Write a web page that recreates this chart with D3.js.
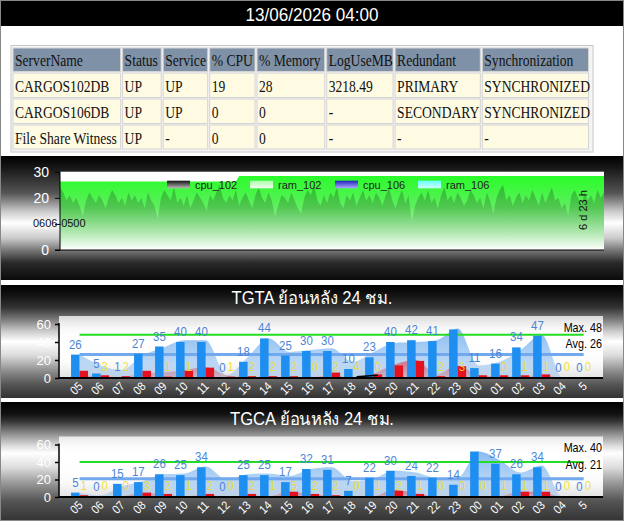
<!DOCTYPE html>
<html><head><meta charset="utf-8">
<script src="https://cdn.jsdelivr.net/npm/d3@7"></script>
<style>
html,body{margin:0;padding:0;background:#fff;}
svg{display:block;}
</style></head><body>
<svg id="c" width="624" height="521"></svg>
<script>
// ---------------- DATA ----------------
const headerTitle = "13/06/2026 04:00";
const tableColumns = ["ServerName","Status","Service","% CPU","% Memory","LogUseMB","Redundant","Synchronization"];
const tableRows = [
  ["CARGOS102DB","UP","UP","19","28","3218.49","PRIMARY","SYNCHRONIZED"],
  ["CARGOS106DB","UP","UP","0","0","-","SECONDARY","SYNCHRONIZED"],
  ["File Share Witness","UP","-","0","0","-","-","-"]
];

// 7-day trend chart (hourly points)
const trendTicks = [0,10,20,30];
const trendLegend = ["cpu_102","ram_102","cpu_106","ram_106"];
const trendStartLabel = "0606-0500";
const trendSpanLabel = "6 d 23 h";
const ram102Index = [0,54,55,167];
const ram102Values = [26.2,26.2,28.4,28.4];
const cpu102 = [
  24,22,19,21,18,20,17,13,19,22,20,18,21,19,16,20,23,21,18,20,17,22,19,21,
  18,20,16,22,19,17,12,20,23,21,19,24,18,20,17,21,16,19,22,20,18,15,21,19,
  22,25,20,18,21,19,23,17,20,22,19,16,21,24,20,18,22,19,13,17,21,20,18,22,
  19,16,14,20,23,21,25,19,17,21,18,22,20,24,18,16,21,19,22,17,20,23,19,21,
  18,22,20,17,21,24,19,16,20,23,18,21,11,17,20,22,19,23,18,20,16,21,24,19,
  21,18,22,20,17,19,23,21,18,20,16,22,19,14,20,23,25,19,21,17,20,22,18,21,
  19,23,20,17,22,18,21,24,19,20,16,18,13,21,23,20,17,22,19,21,18,23,20,22
];

// hourly charts
const hours = ["05","06","07","08","09","10","11","12","13","14","15","16","17","18","19","20","21","22","23","00","01","02","03","04","5"];
const barTicks = [0,20,40,60];

const tgtaTitle = "TGTA ย้อนหลัง 24 ชม.";
const tgtaBlue = [26,5,1,27,35,40,40,0,18,44,25,30,30,10,23,40,42,41,54,11,16,34,47,0,0];
const tgtaBlueLabels = ["26","5","1","27","35","40","40","0","18","44","25","30","30","10","23","40","42","41","","11","16","34","47","0","0"];
const tgtaRed = [8,3,2,8,1.5,8,11.5,1.5,2,2,2,0.5,6,0,4,14,19,2,13,3,3,3,4,0,0];
const tgtaRedLabels = ["","3","2","","1","1","","1","2","2","2","0","2","4","0","","","2","3","","0","1","1","0","0"];
const tgtaBlueArea = [26,14,9,25,34,42,42,3,23,44,29,31,33,18,29,39,40,42,55,14,18,31,48,0,0];
const tgtaRedArea = [3,2,1,5,6,9,12,3,1,1,1,1,3,1,5,15,20,4,14,3,2,2,3,0,0];
const tgtaTrend = [null,null,null,null,null,null,null,null,null,null,null,null,null,1.5,3,null,null,null,null,null,null,null,null,null,null];
const tgtaMax = 48, tgtaAvg = 26;

const tgcaTitle = "TGCA ย้อนหลัง 24 ชม.";
const tgcaBlue = [5,0,15,17,26,25,34,0,25,25,17,32,31,7,22,30,24,22,14,52,38,26,34,0,0];
const tgcaBlueLabels = ["5","0","15","17","26","25","34","0","25","25","17","32","31","7","22","30","24","22","14","","37","26","34","0","0"];
const tgcaRed = [2,0,0.5,5,3.5,1,3.5,0,3.5,1,6,3.5,2,0,0.5,7,3.5,0.5,0,0,1,6,6,0,0];
const tgcaRedLabels = ["1","0","0","3","2","1","2","0","2","1","5","2","2","0","1","2","1","0","0","0","1","1","1","0","0"];
const tgcaBlueArea = [5,2,12,18,26,27,35,20,26,27,24,32,34,18,21,30,28,22,22,52,42,28,36,0,0];
const tgcaRedArea = [1,0,1,5,3,1,3,0,2,1,6,3,2,0,1,8,4,1,0,0,1,6,6,0,0];
const tgcaTrend = hours.map(()=>null);
const tgcaMax = 40, tgcaAvg = 21;

// ---------------- DRAW ----------------
const W=624,H=521;
const svg=d3.select("#c");
const defs=svg.append("defs");
const SANS="'Liberation Sans', Arial, sans-serif";
const SERIF="'Liberation Serif', 'Times New Roman', serif";

function vgrad(id, stops, user){
  const g=defs.append("linearGradient").attr("id",id).attr("x1",0).attr("y1",user?user[0]:0).attr("x2",0).attr("y2",user?user[1]:1);
  if(user) g.attr("gradientUnits","userSpaceOnUse");
  stops.forEach(([o,c,op])=>g.append("stop").attr("offset",o).attr("stop-color",c).attr("stop-opacity",op==null?1:op));
}
function txt(g,x,y,s,o){
  const t=g.append("text")
    .attr("transform",`translate(${x},${y})${o.rot?` rotate(${o.rot})`:""} scale(${o.sx||1},1)`)
    .attr("font-family",o.family||SANS).attr("font-size",o.size)
    .attr("fill",o.fill||"#000").attr("text-anchor",o.anchor||"start").text(s);
  if(o.weight) t.attr("font-weight",o.weight);
  if(o.opacity!=null) t.attr("fill-opacity",o.opacity);
  return t;
}

svg.append("rect").attr("width",W).attr("height",H).attr("fill","#fff");

// header bar
svg.append("rect").attr("x",0).attr("y",0).attr("width",W).attr("height",26).attr("fill","#000");
txt(svg,312,21,headerTitle,{size:19,sx:0.9,fill:"#fff",anchor:"middle"});

// table
const colEdges=[13,122.6,163.2,209.7,257,326.7,395.1,482.3,590.5];
const rowEdges=[48,73,99,125,150.5];
const tg=svg.append("g");
tg.append("rect").attr("x",11).attr("y",45.5).attr("width",582).attr("height",106.5).attr("fill","#f4f4f4").attr("stroke","#c8c8c8");
const allRows=[tableColumns,...tableRows];
allRows.forEach((row,ri)=>{
  row.forEach((cell,ci)=>{
    const x0=colEdges[ci], x1=colEdges[ci+1]-2, y0=rowEdges[ri], y1=rowEdges[ri+1]-1.5;
    tg.append("rect").attr("x",x0).attr("y",y0).attr("width",x1-x0).attr("height",y1-y0)
      .attr("fill",ri===0?"#7f91a6":"#fffbe3").attr("stroke","#d4d4d4").attr("stroke-width",1);
    txt(tg,x0+2,y1-5.5,cell,{size:17,sx:0.8,family:SERIF,fill:"#111"});
  });
});

// ---------- trend chart ----------
vgrad("g1",[[0,"#000"],[0.1,"#181818"],[0.3,"#555"],[0.45,"#ccc"],[0.54,"#fff"],[0.66,"#ccc"],[0.76,"#777"],[0.86,"#2a2a2a"],[1,"#0a0a0a"]]);
svg.append("rect").attr("x",0).attr("y",156).attr("width",W).attr("height",124).attr("fill","url(#g1)");
const tx=d3.scaleLinear().domain([0,cpu102.length-1]).range([60,604]);
const ty=d3.scaleLinear().domain([0,30]).range([250,171.7]);
svg.append("rect").attr("x",60).attr("y",ty(30)).attr("width",544).attr("height",ty(0)-ty(30)).attr("fill","#fff");
vgrad("ramG",[[0,"#22ff22"],[0.45,"#5fee5f"],[1,"#ffffff"]],[ty(30),ty(0)]);
vgrad("cpuG",[[0,"#000",0.28],[0.5,"#000",0.15],[1,"#000",0]],[ty(30),ty(0)]);
const ramArea=d3.area().x((d,i)=>tx(ram102Index[i])).y0(ty(0)).y1(d=>ty(d));
svg.append("path").datum(ram102Values).attr("d",ramArea).attr("fill","url(#ramG)");
const cpuArea=d3.area().x((d,i)=>tx(i)).y0(ty(0)).y1(d=>ty(d));
svg.append("path").datum(cpu102).attr("d",cpuArea).attr("fill","url(#cpuG)");
// axes
const tyAxis=svg.append("g").attr("transform","translate(60,0)").call(d3.axisLeft(ty).tickValues(trendTicks).tickSize(5).tickPadding(6));
tyAxis.select(".domain").attr("stroke","#000").attr("d",`M0,${ty(30)}V${ty(0)}`);
tyAxis.selectAll("line").attr("stroke","#000");
tyAxis.selectAll("text").attr("fill","#fff").attr("font-size",14).attr("font-family",SANS);
svg.append("line").attr("x1",55).attr("x2",604).attr("y1",ty(0)).attr("y2",ty(0)).attr("stroke","#000").attr("stroke-width",1.2);
txt(svg,33,227,trendStartLabel,{size:11,fill:"#111"});
txt(svg,587,210,trendSpanLabel,{size:11,fill:"#111",rot:-90,anchor:"middle"});
// legend
vgrad("lg0",[[0,"#111"],[1,"#bbb"]]);
vgrad("lg1",[[0,"#aaffaa"],[1,"#f0fff0"]]);
vgrad("lg2",[[0,"#2222bb"],[1,"#aaaaff"]]);
vgrad("lg3",[[0,"#66ffff"],[1,"#ccffff"]]);
const legX=[167,250,335,418];
trendLegend.forEach((n,i)=>{
  svg.append("rect").attr("x",legX[i]).attr("y",180.7).attr("width",23).attr("height",7.6).attr("fill",`url(#lg${i})`);
  txt(svg,legX[i]+28,188.5,n,{size:11,fill:"#222"});
});

// ---------- hourly bar charts ----------
vgrad("plotbg",[[0,"#fff",0.75],[0.35,"#fff",1],[0.75,"#fff",0.95],[1,"#f0f0f0",0.9]]);
vgrad("blueAreaG",[[0,"#3f92ea",0.62],[1,"#3f92ea",0.22]]);
vgrad("redAreaG",[[0,"#e02030",0.55],[1,"#e02030",0.15]]);
vgrad("g2",[[0,"#000"],[0.1,"#151515"],[0.2,"#333"],[0.3,"#777"],[0.41,"#ccc"],[0.5,"#fff"],[0.62,"#ddd"],[0.77,"#888"],[0.88,"#555"],[1,"#333"]]);
vgrad("g3",[[0,"#000"],[0.1,"#111"],[0.16,"#333"],[0.26,"#888"],[0.37,"#ddd"],[0.43,"#fff"],[0.55,"#ddd"],[0.68,"#999"],[0.83,"#555"],[1,"#333"]]);

function barChart(o){
  const g=svg.append("g");
  g.append("rect").attr("x",0).attr("y",o.top).attr("width",W).attr("height",o.bottom-o.top).attr("fill",`url(#${o.grad})`);
  const x=d3.scaleBand().domain(hours).range([59,603]).paddingInner(0).paddingOuter(0.45);
  const y=d3.scaleLinear().domain([0,60]).range([o.y0,o.y60]);
  const cx=i=>x(hours[i])+x.bandwidth()/2+0.6;
  // title
  txt(g,312,o.titleY,o.title,{size:17.5,sx:0.95,fill:"#fff",anchor:"middle"});
  // plot background
  g.append("rect").attr("x",59).attr("y",o.y60-8).attr("width",544).attr("height",o.y0-o.y60+8).attr("fill","url(#plotbg)");
  // smoothed areas
  const area=d3.area().x((d,i)=>cx(i)).y0(y(0)).y1(d=>y(d)).curve(d3.curveMonotoneX);
  g.append("path").datum(o.blueArea).attr("d",area).attr("fill","url(#blueAreaG)");
  g.append("path").datum(o.redArea).attr("d",area).attr("fill","url(#redAreaG)");
  // max / avg lines
  g.append("line").attr("x1",cx(0)).attr("x2",cx(hours.length-1)).attr("y1",y(o.avg)).attr("y2",y(o.avg)).attr("stroke","#72a8ee").attr("stroke-width",3);
  g.append("line").attr("x1",cx(0)).attr("x2",cx(hours.length-1)).attr("y1",y(o.max)).attr("y2",y(o.max)).attr("stroke","#22dd22").attr("stroke-width",2);
  // bars
  g.selectAll(null).data(o.blue).join("rect").attr("x",(d,i)=>cx(i)-8.5).attr("y",d=>y(d)).attr("width",8.5).attr("height",d=>y(0)-y(d)).attr("fill","#1e8ef0");
  g.selectAll(null).data(o.red).join("rect").attr("x",(d,i)=>cx(i)).attr("y",d=>y(d)).attr("width",8.5).attr("height",d=>y(0)-y(d)).attr("fill","#e3121e");
  // trend segment
  const tl=d3.line().defined(d=>d!=null).x((d,i)=>cx(i)+4).y(d=>y(d));
  g.append("path").datum(o.trend).attr("d",tl).attr("fill","none").attr("stroke","#000").attr("stroke-width",1.5);
  // axes
  const ya=g.append("g").attr("transform","translate(59,0)").call(d3.axisLeft(y).tickValues(barTicks).tickSize(4).tickPadding(4));
  ya.select(".domain").attr("stroke","#000").attr("stroke-width",1.5).attr("d",`M0,${y(60)-1}V${y(0)}`);
  ya.selectAll("line").attr("stroke","#000").attr("stroke-width",1.5);
  ya.selectAll("text").attr("fill","#fff").attr("font-size",13).attr("font-family",SANS);
  g.append("line").attr("x1",59).attr("x2",603).attr("y1",y(0)).attr("y2",y(0)).attr("stroke","#000").attr("stroke-width",2);
  hours.forEach((h,i)=>txt(g,cx(i)+4,y(0)+9,h,{size:12,sx:0.9,fill:"#fff",anchor:"end",rot:-45}));
  // value labels
  o.blueLabels.forEach((s,i)=>{ if(s!=="") txt(g,cx(i)-4.2,y(o.blue[i])-6,s,{size:13,sx:0.88,fill:"#4a86d6",anchor:"middle"}); });
  o.redLabels.forEach((s,i)=>{ if(s!=="") txt(g,cx(i)+4.2,y(0)-7.5,s,{size:13,sx:0.88,fill:"#eedd22",anchor:"middle",opacity:0.9}); });
  // max/avg text
  txt(g,602,o.y60+7.5,"Max. "+o.max,{size:13,sx:0.83,fill:"#000",anchor:"end"});
  txt(g,602,o.y60+24,"Avg. "+o.avg,{size:13,sx:0.83,fill:"#000",anchor:"end"});
}

barChart({top:285,bottom:398,grad:"g2",titleY:304,title:tgtaTitle,y0:378,y60:324,
  blue:tgtaBlue,blueLabels:tgtaBlueLabels,red:tgtaRed,redLabels:tgtaRedLabels,
  blueArea:tgtaBlueArea,redArea:tgtaRedArea,trend:tgtaTrend,max:tgtaMax,avg:tgtaAvg});
barChart({top:402,bottom:521,grad:"g3",titleY:425,title:tgcaTitle,y0:497,y60:444.5,
  blue:tgcaBlue,blueLabels:tgcaBlueLabels,red:tgcaRed,redLabels:tgcaRedLabels,
  blueArea:tgcaBlueArea,redArea:tgcaRedArea,trend:tgcaTrend,max:tgcaMax,avg:tgcaAvg});

// outer frame
svg.append("rect").attr("x",0.5).attr("y",0.5).attr("width",W-1).attr("height",H-1).attr("fill","none").attr("stroke","#888").attr("stroke-width",1);
</script>
</body></html>
